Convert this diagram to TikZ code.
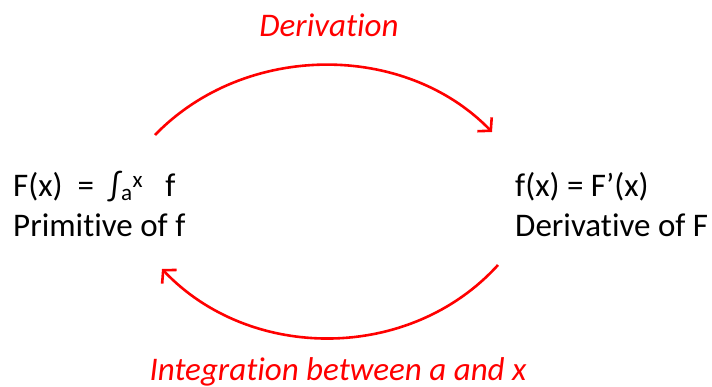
\documentclass[tikz,border=0pt]{standalone}
\usepackage{fontspec}
\setmainfont[Ligatures=NoCommon]{Carlito}
\usetikzlibrary{arrows.meta}
\tikzset{
  mathtxt/.style={anchor=base west, inner sep=0pt, font=\fontsize{33}{40}\selectfont, text=black},
  redlbl/.style={anchor=base, inner sep=0pt, font=\fontsize{33}{40}\selectfont\itshape, text=red},
  flow/.style={draw=red, line width=2.6pt, -{Straight Barb[length=9pt,width=20pt,line width=2.6pt]}}
}
\begin{document}
\begin{tikzpicture}[x=1pt,y=-1pt]
\useasboundingbox (0,0) rectangle (712,387);
\node[mathtxt] (F1) at (13,197) {F(x)\ \ =\ \ ∫\textsubscript{a}\textsuperscript{x}\ \ \ f};
\node[mathtxt] (F2) at (13,237) {Primitive of f};
\node[mathtxt] (G1) at (515,197) {f(x) = F’(x)};
\node[mathtxt] (G2) at (515,237) {Derivative of F};
\node[redlbl] (D) at (329,37) {Derivation};
\node[redlbl] (I) at (338,380) {Integration between a and x};
\coordinate (ts) at (155,135);
\coordinate (te) at (492,132);
\coordinate (bs) at (498,265);
\coordinate (be) at (162,269);
\draw[flow] (ts) .. controls (245,42) and (405,42) .. (te);
\draw[flow] (bs) .. controls (410,362) and (250,362) .. (be);
\end{tikzpicture}
\end{document}
